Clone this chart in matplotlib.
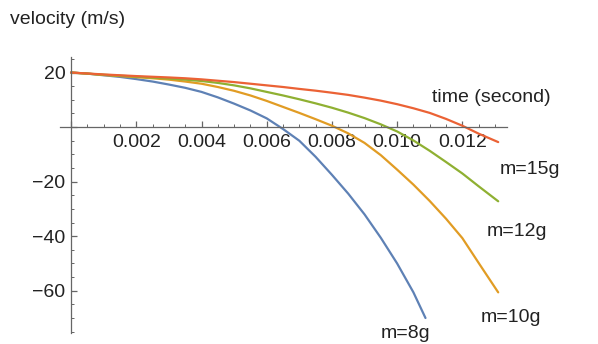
import matplotlib
matplotlib.use('Agg')
import matplotlib.pyplot as plt
from matplotlib.ticker import MultipleLocator, FuncFormatter

plt.rcParams['font.family'] = ['Liberation Sans', 'DejaVu Sans']

# time samples (s) and velocities (m/s) for each projectile mass
t_common = [0, 0.0005, 0.001, 0.0015, 0.002, 0.0025, 0.003, 0.0035, 0.004, 0.0045,
            0.005, 0.0055, 0.006, 0.0065, 0.007, 0.0075, 0.008, 0.0085, 0.009, 0.0095,
            0.010, 0.0105, 0.011, 0.0115, 0.012, 0.0125, 0.0131]
v_15g = [20, 19.65, 19.3, 19.0, 18.7, 18.45, 18.2, 17.9, 17.5, 17.0,
         16.5, 15.9, 15.3, 14.7, 14.0, 13.35, 12.6, 11.8, 10.8, 9.7,
         8.4, 6.9, 5.2, 3.0, 0.5, -2.4, -5.5]
v_12g = [20, 19.6, 19.2, 18.85, 18.5, 18.15, 17.8, 17.4, 16.9, 16.2,
         15.3, 14.2, 12.9, 11.6, 10.2, 8.7, 7.1, 5.3, 3.3, 1.0,
         -1.6, -4.9, -8.7, -12.8, -17.0, -21.7, -27.2]
v_10g = [20, 19.6, 19.1, 18.7, 18.3, 17.9, 17.4, 16.7, 15.9, 14.7,
         13.3, 11.6, 9.6, 7.4, 5.2, 2.9, 0.5, -2.3, -5.8, -10.3,
         -15.6, -21.1, -27.1, -33.6, -40.7, -49.8, -60.6]

t_8g = [0, 0.0005, 0.001, 0.0015, 0.002, 0.0025, 0.003, 0.0035, 0.004, 0.0045,
        0.005, 0.0055, 0.006, 0.0065, 0.007, 0.0075, 0.008, 0.0085, 0.009, 0.0095,
        0.010, 0.0105, 0.01087]
v_8g = [20, 19.6, 19.0, 18.4, 17.6, 16.7, 15.6, 14.4, 12.9, 10.9,
        8.6, 6.1, 3.2, -0.7, -5.0, -10.9, -17.5, -24.4, -32.0, -40.6,
        -50.0, -60.6, -70.0]

series = [
    (t_8g, v_8g, '#5E81B5'),
    (t_common, v_10g, '#E19C24'),
    (t_common, v_12g, '#8FB032'),
    (t_common, v_15g, '#EB6235'),
]

W, H = 598, 344
fig = plt.figure(figsize=(W / 100, H / 100), dpi=100)
ax = fig.add_axes([60 / W, 11 / H, 447 / W, 276 / H])

for t, v, c in series:
    ax.plot(t, v, color=c, linewidth=1.6, solid_capstyle='round', solid_joinstyle='round')

ax.set_xlim(-0.00034, 0.01337)
ax.set_ylim(-75.5, 25.7)

# axes crossing at the origin
for side in ['top', 'right']:
    ax.spines[side].set_visible(False)
ax.spines['left'].set_position(('data', 0))
ax.spines['bottom'].set_position(('data', 0))
for side in ['left', 'bottom']:
    ax.spines[side].set_color('#666666')
    ax.spines[side].set_linewidth(0.9)

ax.xaxis.set_major_locator(MultipleLocator(0.002))
ax.xaxis.set_minor_locator(MultipleLocator(0.0005))
ax.yaxis.set_major_locator(MultipleLocator(20))
ax.yaxis.set_minor_locator(MultipleLocator(5))

ax.xaxis.set_major_formatter(FuncFormatter(lambda x, p: '' if abs(x) < 1e-9 else f'{x:.3f}'))
ax.yaxis.set_major_formatter(FuncFormatter(lambda y, p: '' if abs(y) < 1e-9 else f'{y:.0f}'.replace('-', '\u2212')))

ax.tick_params(which='both', direction='in', color='#666666', labelsize=14, labelcolor='#222222')
ax.tick_params(which='major', length=4.5, width=0.9)
ax.tick_params(which='minor', length=2.5, width=0.7)
ax.tick_params(axis='x', pad=5)
ax.tick_params(axis='y', pad=4)

txt = dict(fontsize=14, color='#222222', va='center')
fig.text(10 / W, 1 - 20 / H, 'velocity (m/s)', ha='left', **txt)
fig.text(432 / W, 1 - 97 / H, 'time (second)', ha='left', **txt)
fig.text(500 / W, 1 - 170 / H, 'm=15g', ha='left', **txt)
fig.text(487 / W, 1 - 231 / H, 'm=12g', ha='left', **txt)
fig.text(481 / W, 1 - 318 / H, 'm=10g', ha='left', **txt)
fig.text(381 / W, 1 - 333 / H, 'm=8g', ha='left', **txt)

fig.savefig('out.png', dpi=100)
